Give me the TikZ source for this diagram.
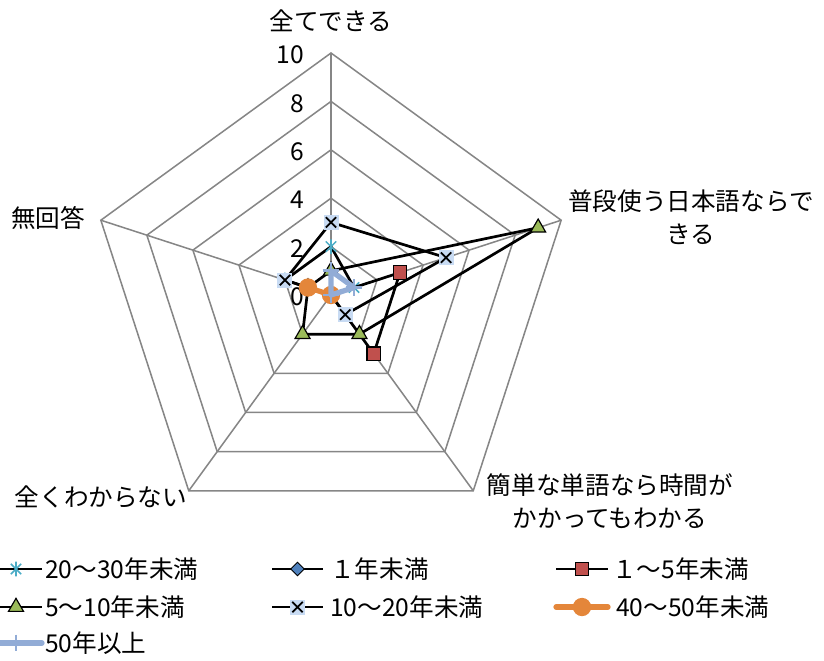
\documentclass[tikz,border=0pt]{standalone}
\usepackage{fontspec}
\setmainfont{Noto Sans CJK JP}
\usetikzlibrary{shapes.geometric}

\definecolor{gridgray}{RGB}{134,134,134}
\definecolor{tealmark}{RGB}{75,172,198}
\definecolor{redmark}{RGB}{192,80,77}
\definecolor{greenmark}{RGB}{155,187,89}
\definecolor{bluemark}{RGB}{79,129,189}
\definecolor{xfill}{RGB}{200,219,243}
\definecolor{orangedot}{RGB}{228,134,58}
\definecolor{paleblue}{RGB}{146,172,214}

\begin{document}
\begin{tikzpicture}[
    x=0.03cm, y=-0.03cm,
    catlabel/.style={font=\fontsize{21}{28}\selectfont, align=center, inner sep=0pt},
    ticklabel/.style={font=\fontsize{21}{24}\selectfont, inner sep=0pt, anchor=east},
    legendtext/.style={font=\fontsize{21}{24}\selectfont, inner sep=0pt, anchor=west},
    gridline/.style={draw=gridgray, line width=1.3pt},
    serline/.style={draw=black, line width=2.3pt, line join=round},
    orangeline/.style={draw=orangedot, line width=4.5pt, line join=round, line cap=round},
    blueline/.style={draw=paleblue, line width=4.5pt, line join=round, line cap=round},
    xmark/.style={rectangle, fill=xfill, minimum size=0.45cm, inner sep=0pt,
        path picture={\draw[black, line width=1.5pt]
            ([shift={(0.07cm,0.07cm)}]path picture bounding box.south west) --
            ([shift={(-0.07cm,-0.07cm)}]path picture bounding box.north east)
            ([shift={(0.07cm,-0.07cm)}]path picture bounding box.north west) --
            ([shift={(-0.07cm,0.07cm)}]path picture bounding box.south east);}},
    starmark/.style={rectangle, minimum size=0.46cm, inner sep=0pt,
        path picture={\draw[tealmark, line width=1.3pt]
            (path picture bounding box.center) +(90:0.22cm) -- +(270:0.22cm)
            +(45:0.22cm) -- +(225:0.22cm) +(135:0.22cm) -- +(315:0.22cm);}},
    plusmark/.style={rectangle, minimum size=0.5cm, inner sep=0pt,
        path picture={\draw[paleblue, line width=2.5pt]
            (path picture bounding box.north) -- (path picture bounding box.south)
            (path picture bounding box.west) -- (path picture bounding box.east);}},
    diamondmark/.style={diamond, fill=bluemark, draw=black, line width=0.8pt, minimum size=0.42cm, inner sep=0pt},
    squaremark/.style={rectangle, fill=redmark, draw=black, line width=1pt, minimum size=0.4cm, inner sep=0pt},
    trimark/.style={regular polygon, regular polygon sides=3, fill=greenmark, draw=black, line width=1pt, minimum size=0.52cm, inner sep=0pt},
    dotmark/.style={circle, fill=orangedot, minimum size=0.55cm, inner sep=0pt}
]
\useasboundingbox (0,0) rectangle (824,660);

% radar grid and series
\begin{scope}[shift={(331,295)}, x=0.726cm, y=0.726cm]
    \foreach \r in {2,4,...,10}
        \draw[gridline] (90:\r) -- (18:\r) -- (-54:\r) -- (-126:\r) -- (162:\r) -- cycle;
    \foreach \a in {90,18,-54,-126,162}
        \draw[gridline] (0,0) -- (\a:10);
    \foreach \r in {0,2,...,10}
        \node[ticklabel] (tick\r) at (-1.1,\r-0.08) {\r};

    % 20~30
    \draw[serline] (90:2) -- (18:1) -- (0,0) -- (162:2) -- cycle;
    \node[starmark] (s20a) at (90:2) {};
    \node[starmark] (s20b) at (18:1) {};
    \node[starmark] (s20e) at (162:2) {};

    % 1~5
    \draw[serline] (0,0) -- (18:3) -- (-54:3) -- cycle;
    \node[squaremark] (s1b) at (18:3) {};
    \node[squaremark] (s1c) at (-54:3) {};

    % 5~10
    \draw[serline] (90:1) -- (18:9) -- (-54:2) -- (-126:2) -- (162:1) -- cycle;
    \node[trimark] (s5a) at (90:1) {};
    \node[trimark] (s5b) at (18:9) {};
    \node[trimark] (s5c) at (-54:2) {};
    \node[trimark] (s5d) at (-126:2) {};
    \node[trimark] (s5e) at (162:1) {};

    % 10~20
    \draw[serline] (90:3) -- (18:5) -- (-54:1) -- (0,0) -- (162:2) -- cycle;
    \node[xmark] (s10a) at (90:3) {};
    \node[xmark] (s10b) at (18:5) {};
    \node[xmark] (s10c) at (-54:1) {};
    \node[xmark] (s10e) at (162:2) {};

    % 40~50
    \draw[orangeline] (0,0) -- (162:1);
    \node[dotmark] (s40a) at (0,0) {};
    \node[dotmark] (s40e) at (162:1) {};

    % 50+
    \draw[blueline] (90:1) -- (18:1) -- (0,0) -- cycle;
    \node[plusmark] (s50a) at (90:1) {};
    \node[plusmark] (s50b) at (18:1) {};
    \node[plusmark] (s50c) at (0,0) {};
\end{scope}

% axis labels
\node[catlabel] (all) at (331,21) {全てできる};
\node[catlabel] (daily) at (691,217) {普段使う日本語ならで\\きる};
\node[catlabel] (simple) at (610,501) {簡単な単語なら時間が\\かかってもわかる};
\node[catlabel] (none) at (101,497) {全くわからない};
\node[catlabel] (noans) at (48,218) {無回答};

% legend
\draw[serline] (-9,569) -- (42,569);
\node[starmark] (lg1) at (16,569) {};
\node[legendtext] at (45,569) {20〜30年未満};
\draw[serline] (272,569) -- (323,569);
\node[diamondmark] (lg2) at (297.5,569) {};
\node[legendtext] at (330,569) {１年未満};
\draw[serline] (556,569) -- (608,569);
\node[squaremark] (lg3) at (582,569) {};
\node[legendtext] at (612,569) {１〜5年未満};

\draw[serline] (-9,607) -- (42,607);
\node[trimark] (lg4) at (16,607) {};
\node[legendtext] at (45,607) {5〜10年未満};
\draw[serline] (272,607) -- (323,607);
\node[xmark] (lg5) at (297.5,607) {};
\node[legendtext] at (330,607) {10〜20年未満};
\draw[orangeline] (556,607) -- (608,607);
\node[dotmark] (lg6) at (582,607) {};
\node[legendtext] at (616,607) {40〜50年未満};

\draw[blueline] (-9,643) -- (42,643);
\node[plusmark] (lg7) at (16,643) {};
\node[legendtext] at (45,643) {50年以上};
\end{tikzpicture}
\end{document}
